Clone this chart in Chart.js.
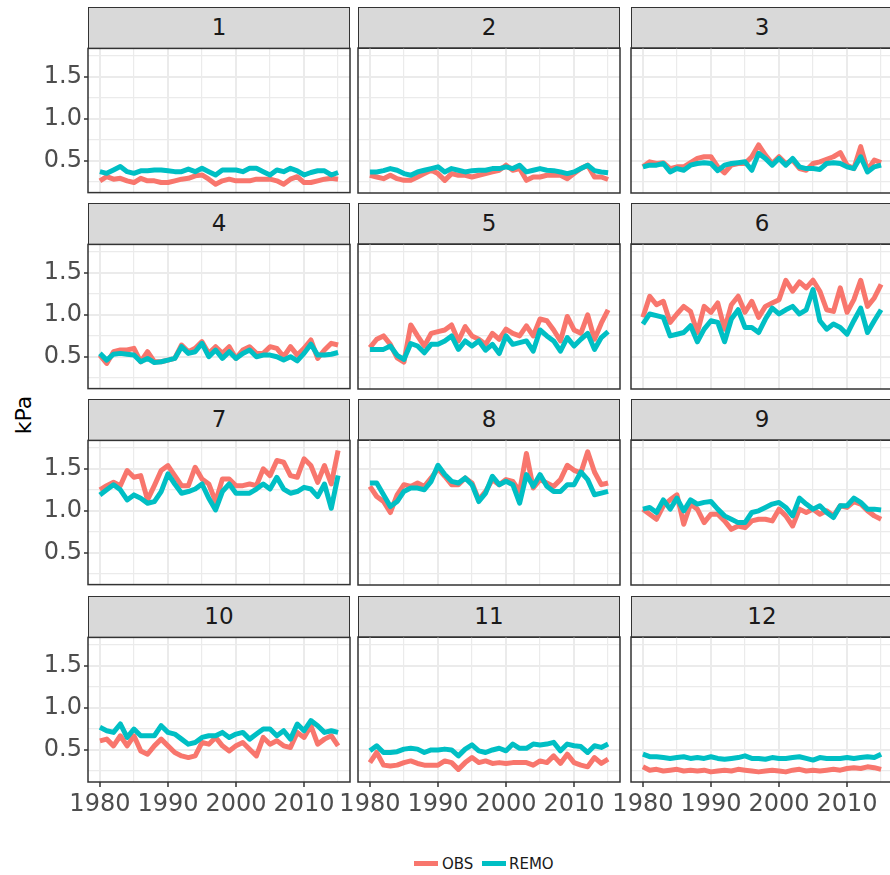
<!DOCTYPE html>
<html>
<head>
<meta charset="utf-8">
<script src="https://cdn.jsdelivr.net/npm/chart.js@4.4.1/dist/chart.umd.min.js"></script>
<style>
  html, body { margin: 0; padding: 0; background: #fff; }
  body { width: 890px; height: 875px; position: relative; overflow: hidden; font-family: "DejaVu Sans", sans-serif; }
  .strip { position: absolute; box-sizing: border-box; background: #D9D9D9; border: 1.5px solid #333; color: #1A1A1A; font-size: 23px; text-align: center; }
  .panel { position: absolute; }
  #ylab { position: absolute; left: 23px; top: 415px; transform: translate(-50%, -50%) rotate(-90deg); font-size: 22px; color: #000; white-space: nowrap; }
  .key { position: absolute; height: 5px; width: 24px; }
  .ltxt { position: absolute; font-size: 15px; color: #1A1A1A; line-height: 16px; }
</style>
</head>
<body>
<div id="ylab">kPa</div>
<span class="key" style="left:414px;top:861px;background:#F8766D"></span><span class="ltxt" style="left:442px;top:856px">OBS</span>
<span class="key" style="left:482px;top:861px;background:#00BFC4"></span><span class="ltxt" style="left:509px;top:856px">REMO</span>

<script>
const years = [1980, 1981, 1982, 1983, 1984, 1985, 1986, 1987, 1988, 1989,
  1990, 1991, 1992, 1993, 1994, 1995, 1996, 1997, 1998, 1999,
  2000, 2001, 2002, 2003, 2004, 2005, 2006, 2007, 2008, 2009,
  2010, 2011, 2012, 2013, 2014, 2015];

// vapour pressure per month (kPa), 1980-2015
const obs1 = [0.26,0.31,0.28,0.29,0.26,0.24,0.29,0.26,0.26,0.24,0.24,0.26,0.28,0.29,0.32,0.33,0.28,0.22,0.26,0.28,0.26,0.26,0.26,0.28,0.28,0.28,0.26,0.22,0.28,0.31,0.24,0.24,0.26,0.28,0.29,0.28];
const remo1 = [0.37,0.35,0.39,0.43,0.37,0.35,0.38,0.38,0.39,0.39,0.38,0.37,0.37,0.40,0.37,0.41,0.37,0.33,0.39,0.39,0.39,0.37,0.41,0.41,0.37,0.33,0.39,0.37,0.41,0.38,0.33,0.36,0.38,0.38,0.33,0.36];
const obs2 = [0.33,0.31,0.29,0.33,0.29,0.27,0.27,0.31,0.35,0.39,0.35,0.27,0.35,0.33,0.33,0.31,0.33,0.35,0.37,0.39,0.45,0.39,0.41,0.27,0.31,0.31,0.33,0.33,0.33,0.29,0.35,0.41,0.45,0.31,0.31,0.28];
const remo2 = [0.37,0.37,0.385,0.41,0.39,0.35,0.33,0.37,0.39,0.41,0.43,0.37,0.41,0.39,0.37,0.385,0.39,0.39,0.41,0.41,0.43,0.41,0.45,0.37,0.39,0.41,0.39,0.385,0.37,0.35,0.37,0.41,0.45,0.385,0.37,0.36];
const obs3 = [0.43,0.49,0.47,0.48,0.41,0.43,0.43,0.48,0.53,0.55,0.55,0.43,0.36,0.45,0.47,0.47,0.55,0.69,0.57,0.47,0.55,0.47,0.51,0.41,0.39,0.47,0.49,0.52,0.55,0.60,0.45,0.41,0.67,0.39,0.51,0.48];
const remo3 = [0.43,0.45,0.45,0.47,0.37,0.41,0.39,0.45,0.47,0.48,0.47,0.385,0.45,0.47,0.48,0.49,0.39,0.59,0.53,0.45,0.53,0.45,0.53,0.43,0.41,0.41,0.40,0.47,0.48,0.47,0.43,0.41,0.55,0.37,0.43,0.45];
const obs4 = [0.52,0.42,0.56,0.58,0.58,0.60,0.44,0.56,0.44,0.44,0.46,0.48,0.64,0.56,0.60,0.68,0.54,0.62,0.54,0.62,0.48,0.58,0.62,0.54,0.54,0.62,0.60,0.50,0.62,0.52,0.60,0.70,0.48,0.58,0.66,0.64];
const remo4 = [0.54,0.46,0.53,0.54,0.53,0.52,0.44,0.48,0.43,0.44,0.46,0.48,0.62,0.54,0.56,0.66,0.50,0.58,0.48,0.56,0.48,0.54,0.58,0.50,0.52,0.52,0.50,0.46,0.50,0.45,0.54,0.65,0.52,0.52,0.53,0.55];
const obs5 = [0.61,0.71,0.75,0.65,0.49,0.44,0.88,0.75,0.63,0.78,0.80,0.82,0.88,0.69,0.86,0.75,0.71,0.65,0.78,0.71,0.83,0.78,0.75,0.87,0.75,0.95,0.93,0.82,0.69,0.98,0.82,0.78,1.00,0.71,0.90,1.06];
const remo5 = [0.59,0.59,0.59,0.63,0.52,0.47,0.66,0.63,0.55,0.65,0.65,0.69,0.75,0.59,0.69,0.63,0.69,0.58,0.65,0.54,0.75,0.65,0.67,0.69,0.57,0.82,0.75,0.69,0.57,0.73,0.63,0.71,0.78,0.59,0.73,0.80];
const obs6 = [0.97,1.22,1.12,1.16,0.91,1.01,1.10,1.04,0.79,1.10,1.03,1.14,0.83,1.12,1.22,1.03,1.16,0.97,1.10,1.14,1.18,1.41,1.28,1.39,1.32,1.41,1.28,1.06,1.04,1.32,1.03,1.18,1.41,1.10,1.20,1.36];
const remo6 = [0.89,1.01,0.99,0.97,0.75,0.77,0.79,0.87,0.68,0.83,0.93,0.91,0.68,0.95,1.06,0.85,0.85,0.79,0.95,1.08,1.01,1.06,1.10,1.01,1.06,1.30,0.93,0.83,0.89,0.85,0.77,0.93,1.08,0.79,0.93,1.06];
const obs7 = [1.25,1.30,1.34,1.30,1.48,1.40,1.42,1.13,1.30,1.48,1.54,1.42,1.30,1.30,1.52,1.38,1.32,1.11,1.38,1.38,1.30,1.30,1.32,1.30,1.50,1.42,1.60,1.58,1.42,1.40,1.62,1.54,1.34,1.54,1.32,1.72];
const remo7 = [1.19,1.25,1.31,1.25,1.13,1.19,1.15,1.09,1.11,1.23,1.44,1.32,1.21,1.23,1.26,1.32,1.15,1.01,1.23,1.32,1.21,1.21,1.21,1.26,1.32,1.26,1.40,1.26,1.21,1.23,1.28,1.26,1.17,1.32,1.03,1.42];
const obs8 = [1.29,1.17,1.11,0.98,1.19,1.31,1.29,1.33,1.29,1.39,1.50,1.41,1.31,1.31,1.39,1.33,1.13,1.23,1.37,1.31,1.37,1.35,1.23,1.68,1.27,1.37,1.33,1.29,1.37,1.54,1.48,1.45,1.70,1.46,1.31,1.33];
const remo8 = [1.33,1.33,1.19,1.05,1.11,1.23,1.27,1.27,1.25,1.35,1.54,1.43,1.35,1.33,1.39,1.31,1.11,1.21,1.41,1.31,1.35,1.31,1.09,1.43,1.29,1.43,1.29,1.23,1.23,1.31,1.31,1.46,1.37,1.19,1.21,1.23];
const obs9 = [1.02,0.96,0.90,1.06,1.13,1.19,0.84,1.08,1.02,0.86,0.96,0.96,0.88,0.78,0.82,0.80,0.88,0.90,0.90,0.88,1.02,0.94,0.82,1.02,0.98,1.02,0.96,1.00,0.94,1.06,1.04,1.11,1.08,1.00,0.94,0.90];
const remo9 = [1.02,1.04,0.98,1.13,1.02,1.15,1.00,1.13,1.08,1.10,1.11,1.02,0.94,0.90,0.86,0.86,0.98,1.00,1.04,1.08,1.10,1.04,0.94,1.15,1.08,1.02,1.06,0.98,0.92,1.06,1.06,1.15,1.10,1.02,1.02,1.01];
const obs10 = [0.61,0.63,0.55,0.67,0.55,0.67,0.49,0.45,0.55,0.63,0.55,0.47,0.43,0.41,0.43,0.59,0.57,0.65,0.55,0.49,0.55,0.59,0.51,0.43,0.65,0.57,0.61,0.55,0.53,0.71,0.65,0.79,0.57,0.63,0.67,0.55];
const remo10 = [0.77,0.73,0.71,0.81,0.65,0.75,0.67,0.67,0.67,0.79,0.71,0.69,0.63,0.57,0.59,0.65,0.67,0.67,0.71,0.65,0.69,0.71,0.63,0.69,0.75,0.75,0.67,0.73,0.63,0.81,0.73,0.85,0.79,0.71,0.73,0.71];
const obs11 = [0.35,0.47,0.32,0.31,0.32,0.35,0.37,0.34,0.32,0.32,0.32,0.37,0.35,0.27,0.35,0.41,0.35,0.37,0.34,0.35,0.34,0.35,0.35,0.35,0.32,0.37,0.35,0.43,0.34,0.45,0.35,0.32,0.30,0.41,0.34,0.39];
const remo11 = [0.49,0.55,0.47,0.47,0.48,0.51,0.52,0.51,0.47,0.50,0.50,0.51,0.50,0.43,0.51,0.56,0.49,0.47,0.50,0.52,0.49,0.57,0.52,0.52,0.57,0.56,0.57,0.59,0.49,0.57,0.55,0.54,0.47,0.55,0.53,0.57];
const obs12 = [0.30,0.26,0.27,0.25,0.26,0.27,0.25,0.26,0.25,0.26,0.24,0.25,0.26,0.25,0.27,0.26,0.25,0.24,0.25,0.26,0.25,0.24,0.26,0.27,0.25,0.26,0.25,0.26,0.27,0.26,0.28,0.29,0.28,0.30,0.29,0.27];
const remo12 = [0.45,0.42,0.42,0.41,0.40,0.41,0.42,0.40,0.41,0.40,0.42,0.40,0.39,0.40,0.41,0.43,0.40,0.40,0.39,0.41,0.40,0.40,0.41,0.42,0.40,0.38,0.41,0.40,0.40,0.40,0.41,0.40,0.41,0.42,0.41,0.45];

const panelLabels = ['1', '2', '3', '4', '5', '6', '7', '8', '9', '10', '11', '12'];
const obsByMonth = [obs1, obs2, obs3, obs4, obs5, obs6, obs7, obs8, obs9, obs10, obs11, obs12];
const remoByMonth = [remo1, remo2, remo3, remo4, remo5, remo6, remo7, remo8, remo9, remo10, remo11, remo12];

const yMajor = [0.5, 1.0, 1.5];
const yMinor = [0.25, 0.75, 1.25, 1.75];
const xMajor = [1980, 1990, 2000, 2010];
const xMinor = [1985, 1995, 2005, 2015];

const seriesNames = ['OBS', 'REMO'];
const seriesColors = ['#F8766D', '#00BFC4'];

// facet geometry
const colLeft = [88, 358, 631];
const rowTop = [48, 244, 440, 637];
const panelW = 262, panelH = 145, stripH = 41;
const side = 30, edge = 16, xAxisH = 45, yAxisW = 88;

const tickFont = { family: "'DejaVu Sans', sans-serif", size: 24 };

// panel frame on top of everything, like ggplot's panel.border
const panelBorder = {
  id: 'panelBorder',
  afterDraw(chart) {
    const { ctx, chartArea: a } = chart;
    ctx.save();
    ctx.strokeStyle = '#333333';
    ctx.lineWidth = 1.5;
    ctx.strokeRect(a.left, a.top, a.right - a.left, a.bottom - a.top);
    ctx.restore();
  }
};

function makePanel(m) {
  const row = Math.floor(m / 3), col = m % 3;
  const isLeft = col === 0, isBottom = row === 3;

  const strip = document.createElement('div');
  strip.className = 'strip';
  strip.style.left = colLeft[col] + 'px';
  strip.style.top = (rowTop[row] - stripH) + 'px';
  strip.style.width = panelW + 'px';
  strip.style.height = (stripH + 1) + 'px';
  strip.style.lineHeight = (stripH - 3) + 'px';
  strip.textContent = panelLabels[m];
  document.body.appendChild(strip);

  const padL = isLeft ? 0 : side;
  const cw = (isLeft ? yAxisW : side) + panelW + side;
  const ch = edge + panelH + (isBottom ? xAxisH : edge);
  const canvas = document.createElement('canvas');
  canvas.className = 'panel';
  canvas.width = cw;
  canvas.height = ch;
  canvas.style.left = (isLeft ? 0 : colLeft[col] - side) + 'px';
  canvas.style.top = (rowTop[row] - edge) + 'px';
  document.body.appendChild(canvas);

  const datasets = [obsByMonth[m], remoByMonth[m]].map((vals, k) => ({
    label: seriesNames[k],
    data: years.map((yr, i) => ({ x: yr, y: vals[i] })),
    borderColor: seriesColors[k],
    borderWidth: 5,
    borderJoinStyle: 'round',
    pointRadius: 0,
    tension: 0,
    order: 2 - k
  }));

  new Chart(canvas.getContext('2d'), {
    type: 'line',
    data: { datasets },
    options: {
      responsive: false,
      animation: false,
      events: [],
      layout: { padding: { left: padL, right: side, top: edge, bottom: isBottom ? 0 : edge } },
      plugins: { legend: { display: false }, tooltip: { enabled: false } },
      scales: {
        x: {
          type: 'linear',
          min: 1978.25,
          max: 2016.75,
          afterBuildTicks: s => { s.ticks = xMajor.concat(xMinor).sort().map(v => ({ value: v })); },
          afterFit: s => { s.height = isBottom ? xAxisH : 0; },
          border: { display: false },
          grid: {
            color: '#EBEBEB',
            lineWidth: c => xMajor.includes(c.tick.value) ? 2 : 1.2,
            drawTicks: isBottom,
            tickLength: 5,
            tickWidth: 1.5,
            tickColor: c => xMajor.includes(c.tick.value) ? '#333333' : 'rgba(0,0,0,0)'
          },
          ticks: {
            display: isBottom,
            autoSkip: false,
            maxRotation: 0,
            padding: 3,
            color: '#4D4D4D',
            font: tickFont,
            callback: v => xMajor.includes(v) ? String(v) : ''
          }
        },
        y: {
          type: 'linear',
          min: 0.12,
          max: 1.84,
          afterBuildTicks: s => { s.ticks = yMajor.concat(yMinor).sort().map(v => ({ value: v })); },
          afterFit: s => { s.width = isLeft ? yAxisW : 0; },
          border: { display: false },
          grid: {
            color: '#EBEBEB',
            lineWidth: c => yMajor.includes(c.tick.value) ? 2 : 1.2,
            drawTicks: isLeft,
            tickLength: 4,
            tickWidth: 1.5,
            tickColor: c => yMajor.includes(c.tick.value) ? '#333333' : 'rgba(0,0,0,0)'
          },
          ticks: {
            display: isLeft,
            autoSkip: false,
            padding: 2,
            color: '#4D4D4D',
            font: tickFont,
            callback: v => yMajor.includes(v) ? v.toFixed(1) : ''
          }
        }
      }
    },
    plugins: [panelBorder]
  });
}

for (let m = 0; m < 12; m++) makePanel(m);
</script>
</body>
</html>
